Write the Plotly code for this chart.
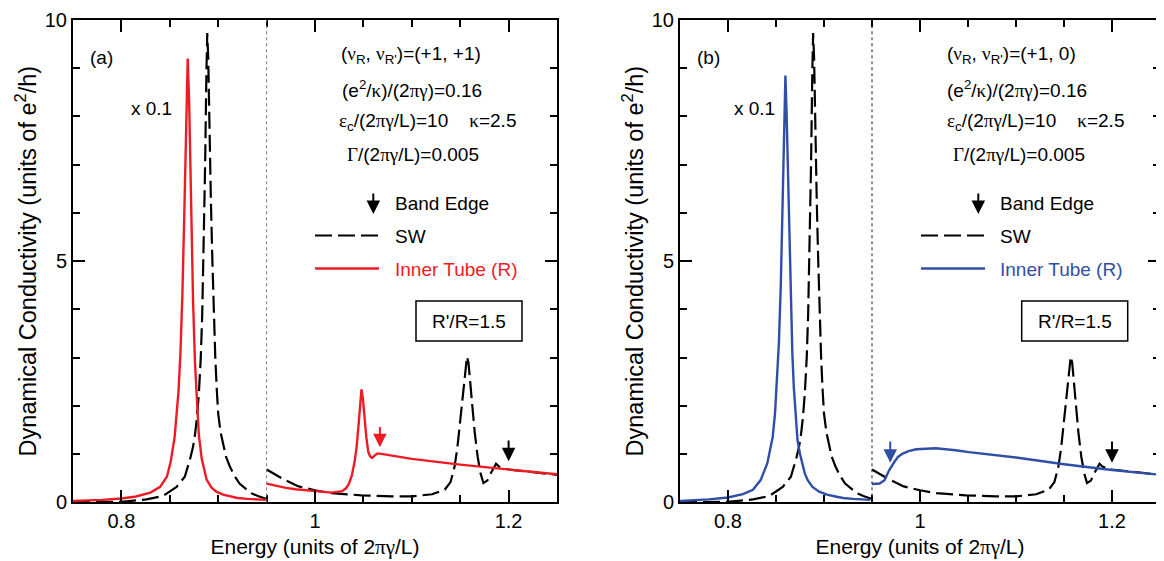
import plotly.graph_objects as go

# reference canvas is 1164x561; the page body adds an 8px margin, so the figure is
# drawn 8px smaller and reference pixel positions are shifted by that offset.
REF_W, REF_H = 1164, 561
OFF = 8
W, H = REF_W - OFF, REF_H - OFF

# ---------------- data ----------------
# left of the break (values shown x 0.1)
sw_left_x = [0.75, 0.80, 0.826, 0.843, 0.857, 0.8655, 0.871, 0.874, 0.876, 0.878, 0.880,
             0.882, 0.8835, 0.885, 0.8865, 0.8878, 0.8887, 0.8897, 0.891, 0.8925, 0.894,
             0.8955, 0.897, 0.8985, 0.900, 0.9025, 0.905, 0.908, 0.912, 0.917, 0.922,
             0.928, 0.934, 0.941, 0.948, 0.95]
sw_left_y = [0.0, 0.01, 0.06, 0.13, 0.32, 0.53, 0.90, 1.15, 1.40, 1.75, 2.25,
             3.00, 3.90, 5.20, 7.00, 8.90, 9.73, 9.20, 7.60, 6.20, 5.00,
             3.90, 3.00, 2.35, 1.84, 1.45, 1.22, 0.95, 0.74, 0.54, 0.39,
             0.28, 0.19, 0.13, 0.08, 0.07]

# right of the break (true scale)
sw_right_x = [0.95, 0.9655, 0.983, 1.0, 1.017, 1.048, 1.079, 1.10, 1.121, 1.134, 1.140,
              1.144, 1.147, 1.150, 1.153, 1.1555, 1.157, 1.1585, 1.160, 1.1625, 1.165,
              1.168, 1.171, 1.174, 1.178, 1.182, 1.187, 1.19, 1.20, 1.25]
sw_right_y = [0.68, 0.50, 0.33, 0.25, 0.19, 0.145, 0.124, 0.124, 0.166, 0.26, 0.42,
              0.72, 1.12, 1.70, 2.33, 2.85, 3.02, 2.90, 2.54, 1.95, 1.45,
              0.95, 0.60, 0.40, 0.45, 0.62, 0.80, 0.74, 0.68, 0.57]

# panel (a): inner tube, (nu_R, nu_R') = (+1, +1)
a_left_x = [0.75, 0.78, 0.80, 0.815, 0.83, 0.84, 0.847, 0.851, 0.855, 0.857, 0.859,
            0.861, 0.863, 0.865, 0.867, 0.8685, 0.870, 0.872, 0.874, 0.876, 0.878,
            0.880, 0.883, 0.888, 0.893, 0.898, 0.905, 0.912, 0.92, 0.93, 0.94, 0.95]
a_left_y = [0.03, 0.05, 0.08, 0.12, 0.20, 0.32, 0.53, 0.85, 1.35, 1.75, 2.30,
            3.10, 4.30, 6.00, 8.20, 9.20, 8.30, 6.00, 4.20, 2.90, 2.00,
            1.40, 0.90, 0.47, 0.31, 0.22, 0.16, 0.12, 0.09, 0.07, 0.06, 0.05]
a_right_x = [0.95, 0.96, 0.97, 0.98, 0.99, 1.0, 1.017, 1.028, 1.032, 1.035, 1.038,
             1.041, 1.043, 1.045, 1.0465, 1.048, 1.0495, 1.051, 1.053, 1.055, 1.057,
             1.059, 1.0615, 1.064, 1.067, 1.10, 1.15, 1.20, 1.25]
a_right_y = [0.386, 0.34, 0.30, 0.27, 0.25, 0.23, 0.20, 0.23, 0.29, 0.38, 0.55,
             0.85, 1.15, 1.60, 2.00, 2.34, 2.15, 1.75, 1.35, 1.05, 0.95,
             0.92, 0.96, 1.01, 1.01, 0.90, 0.78, 0.68, 0.58]

# panel (b): inner tube, (nu_R, nu_R') = (+1, 0)
b_left_x = [0.75, 0.78, 0.80, 0.8155, 0.826, 0.834, 0.841, 0.8466, 0.849, 0.851, 0.853,
            0.855, 0.857, 0.8585, 0.8598, 0.861, 0.8625, 0.864, 0.8656, 0.867, 0.8685,
            0.8703, 0.8724, 0.875, 0.877, 0.880, 0.883, 0.888, 0.895, 0.903, 0.912,
            0.92, 0.93, 0.948]
b_left_y = [0.03, 0.06, 0.10, 0.17, 0.26, 0.46, 0.81, 1.36, 1.85, 2.50, 3.30,
            4.50, 6.50, 8.00, 8.85, 8.10, 6.80, 5.40, 4.20, 3.10, 2.40,
            1.84, 1.29, 1.00, 0.81, 0.60, 0.46, 0.32, 0.22, 0.16, 0.12,
            0.09, 0.07, 0.05]
b_right_x = [0.95, 0.958, 0.963, 0.968, 0.9734, 0.977, 0.982, 0.988, 0.996, 1.0166, 1.037,
             1.051, 1.10, 1.15, 1.20, 1.25]
b_right_y = [0.38, 0.39, 0.46, 0.67, 0.84, 0.94, 1.01, 1.06, 1.10, 1.12, 1.08,
             1.04, 0.93, 0.79, 0.67, 0.57]

# band-edge arrows: x, arrow tip, arrow tail
a_edges_x = [1.067, 1.20]
b_edges_x = [0.969, 1.20]
a_edges_tip = [1.14, 0.85]
a_edges_tail = [1.59, 1.31]
b_edges_tip = [0.82, 0.82]
b_edges_tail = [1.29, 1.29]

SCALE_BREAK = 0.95
x_ticks = [0.8, 1, 1.2]
x_ticktext = ["0.8", "1", "1.2"]
y_ticks = [0, 5, 10]
y_ticktext = ["0", "5", "10"]

RED = "#ED1C24"
BLUE = "#2F4FA6"
FONT = "Liberation Sans, Arial, sans-serif"
SERIF = "Liberation Serif, Times New Roman, serif"
ARROW_SIZE = 1.35


def g(s):
    return f'<span style="font-family:{SERIF}">{s}</span>'


def px(x):
    return (x - OFF) / W


def py(y):
    return 1 - (y - OFF) / H


fig = go.Figure()

panels = [
    dict(xa="x", ya="y", col=RED, lx=a_left_x, ly=a_left_y, rx=a_right_x, ry=a_right_y,
         ex=a_edges_x, et=a_edges_tip, el=a_edges_tail, ecol=[RED, "black"]),
    dict(xa="x2", ya="y2", col=BLUE, lx=b_left_x, ly=b_left_y, rx=b_right_x, ry=b_right_y,
         ex=b_edges_x, et=b_edges_tip, el=b_edges_tail, ecol=[BLUE, "black"]),
]

dash = "17px,6px"
for p in panels:
    fig.add_trace(go.Scatter(x=sw_left_x, y=sw_left_y, mode="lines", xaxis=p["xa"], yaxis=p["ya"],
                             line=dict(color="black", width=2.2, dash=dash), showlegend=False))
    fig.add_trace(go.Scatter(x=sw_right_x, y=sw_right_y, mode="lines", xaxis=p["xa"], yaxis=p["ya"],
                             line=dict(color="black", width=2.2, dash=dash), showlegend=False))
    fig.add_trace(go.Scatter(x=p["lx"], y=p["ly"], mode="lines", xaxis=p["xa"], yaxis=p["ya"],
                             line=dict(color=p["col"], width=2.4), showlegend=False))
    fig.add_trace(go.Scatter(x=p["rx"], y=p["ry"], mode="lines", xaxis=p["xa"], yaxis=p["ya"],
                             line=dict(color=p["col"], width=2.4), showlegend=False))
    for ex, et, el, c in zip(p["ex"], p["et"], p["el"], p["ecol"]):
        fig.add_annotation(x=ex, y=et, ax=ex, ay=el, xref=p["xa"], yref=p["ya"],
                           axref=p["xa"], ayref=p["ya"], text="", showarrow=True,
                           arrowhead=2, arrowsize=ARROW_SIZE, arrowwidth=2, arrowcolor=c, standoff=0)
    # break line
    fig.add_shape(type="line", xref=p["xa"], yref=p["ya"] + " domain", x0=SCALE_BREAK, x1=SCALE_BREAK,
                  y0=0, y1=1, line=dict(color="#777777" if p["xa"] == "x" else "#222222", width=1, dash="3px,3px"))

axis_common = dict(showline=True, linecolor="black", linewidth=2, mirror="allticks",
                   ticks="inside", ticklen=12, tickwidth=1.5, tickcolor="black", automargin=False,
                   showgrid=False, zeroline=False, tickfont=dict(family=FONT, size=20, color="black"))

xtitle = "Energy (units of 2" + g("πγ") + "/L)"
ytitle = "Dynamical Conductivity (units of e<sup>2</sup>/h)"

ydom = [py(502.3), py(20)]
for i, dom in enumerate([[px(73), px(557)], [px(680), px(1160)]]):
    sfx = "" if i == 0 else str(i + 1)
    fig.update_layout(**{
        "xaxis" + sfx: dict(axis_common, domain=dom, range=[0.75, 1.25], tickmode="array",
                            tickvals=x_ticks, ticktext=x_ticktext, anchor="y" + sfx,
                            minor=dict(tickmode="linear", tick0=0.75, dtick=0.05, ticklen=7,
                                       tickwidth=1.5, ticks="inside", tickcolor="black"),
                            title=dict(text=xtitle, font=dict(family=FONT, size=21, color="black"),
                                       standoff=8)),
        "yaxis" + sfx: dict(axis_common, domain=ydom, range=[0, 10], tickmode="array",
                            tickvals=y_ticks, ticktext=y_ticktext, anchor="x" + sfx,
                            minor=dict(tickmode="linear", tick0=0, dtick=1, ticklen=7,
                                       tickwidth=1.5, ticks="inside", tickcolor="black"),
                            title=dict(text=ytitle, font=dict(family=FONT, size=23.5, color="black"),
                                       standoff=2)),
    })


def txt(x, y, s, size=19, color="black", anchor="left"):
    fig.add_annotation(x=px(x), y=py(y), xref="paper", yref="paper", text=s, showarrow=False,
                       xanchor=anchor, yanchor="middle",
                       font=dict(family=FONT, size=size, color=color))


labels = [
    dict(tag="(a)", tagx=101.7, x01=(151.5), par=(339, 340, 336.7, 345), leg=373.3, line=(315, 379),
         box=(416, 522), col=RED, nu="(+1, +1)"),
    dict(tag="(b)", tagx=708, x01=(754), par=(945, 945, 945, 950.7), leg=978.3, line=(921, 985),
         box=(1021.7, 1127.7), col=BLUE, nu="(+1, 0)"),
]
for L in labels:
    txt(L["tagx"], 57, L["tag"], anchor="center")
    txt(L["x01"], 108, "x 0.1", anchor="center")
    txt(L["par"][0], 55, "(" + g("ν") + "<sub>R</sub>, " + g("ν") + "<sub>R'</sub>)=" + L["nu"])
    txt(L["par"][1], 89, "(e<sup>2</sup>/" + g("κ") + ")/(2" + g("πγ") + ")=0.16")
    txt(L["par"][2], 122, g("ε") + "<sub>c</sub>/(2" + g("πγ") + "/L)=10\u00a0\u00a0\u00a0\u00a0" + g("κ") + "=2.5")
    txt(L["par"][3], 155, g("Γ") + "/(2" + g("πγ") + "/L)=0.005")
    # legend
    fig.add_annotation(x=px(L["leg"]), y=py(214), xref="paper", yref="paper", ax=0, ay=-22,
                       text="", showarrow=True, arrowhead=2, arrowsize=ARROW_SIZE, arrowwidth=2,
                       arrowcolor="black", standoff=0)
    txt(L["leg"] + 19.5, 203, "Band Edge")
    fig.add_shape(type="line", xref="paper", yref="paper", x0=px(L["line"][0]), x1=px(L["line"][1]),
                  y0=py(235.5), y1=py(235.5), line=dict(color="black", width=2.2, dash=dash))
    txt(L["leg"] + 19.5, 236, "SW")
    fig.add_shape(type="line", xref="paper", yref="paper", x0=px(L["line"][0]), x1=px(L["line"][1]),
                  y0=py(268.5), y1=py(268.5), line=dict(color=L["col"], width=2.4))
    txt(L["leg"] + 19.5, 269, "Inner Tube (R)", color=L["col"])
    fig.add_shape(type="rect", xref="paper", yref="paper", x0=px(L["box"][0]), x1=px(L["box"][1]),
                  y0=py(341), y1=py(301), line=dict(color="black", width=1.5))
    txt((L["box"][0] + L["box"][1]) / 2, 321.5, "R'/R=1.5", anchor="center")

fig.update_layout(width=W, height=H, margin=dict(l=0, r=0, t=0, b=0),
                  paper_bgcolor="white", plot_bgcolor="white", showlegend=False,
                  font=dict(family=FONT, color="black"))

fig.write_html("out.html")
